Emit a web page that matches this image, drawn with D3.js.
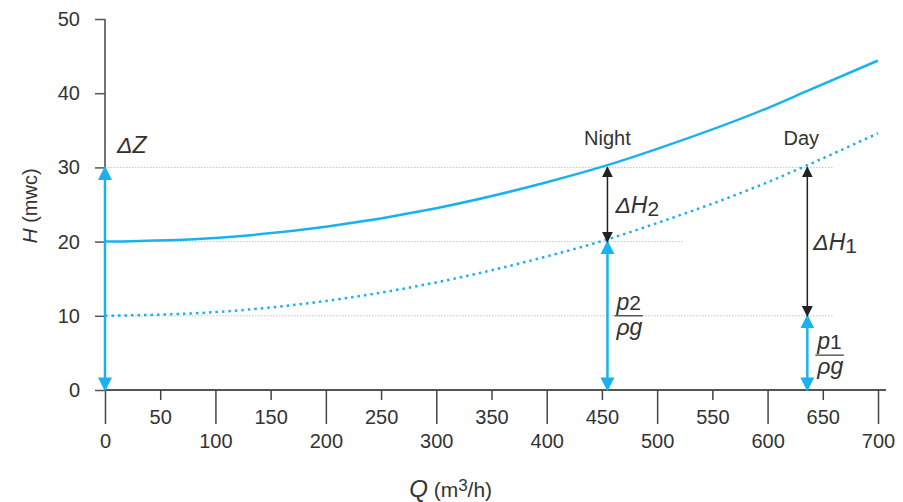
<!DOCTYPE html>
<html lang="en">
<head>
<meta charset="utf-8">
<title>System curve</title>
<script src="https://d3js.org/d3.v7.min.js"></script>
<style>
  body { margin: 0; background: #fff; }
  text { font-family: "Liberation Sans", Arial, sans-serif; fill: #333; }
</style>
</head>
<body>
<div id="chart"></div>
<script>
// data
var flowQ     = [0, 100, 200, 300, 400, 455, 500, 600, 636, 700];
var headNight = [20, 20.5, 22, 24.5, 28, 30.3, 32.5, 38, 40.3, 44.4];
var headDay   = [10, 10.5, 12, 14.5, 18, 20.3, 22.5, 28, 30.3, 34.6];
var xMajor = [0, 100, 200, 300, 400, 500, 600, 700];
var xMinor = [50, 150, 250, 350, 450, 550, 650];
var yTicks = [0, 10, 20, 30, 40, 50];
var qNight = 455, qDay = 636;
// reference levels: [head, Q where the dotted line stops]
var refLines = [[30, 660], [20, 523], [10, 660]];

var blue = "#1ab2ee";
var W = 903, H = 502;
var margin = {top: 19, right: 25, bottom: 112, left: 105};
var width = W - margin.left - margin.right,
    height = H - margin.top - margin.bottom;

var svg = d3.select("#chart").append("svg")
    .attr("width", W).attr("height", H);

var defs = svg.append("defs");
function marker(id, color, size) {
  defs.append("marker")
    .attr("id", id)
    .attr("viewBox", "0 0 10 10")
    .attr("refX", 9).attr("refY", 5)
    .attr("markerUnits", "userSpaceOnUse")
    .attr("markerWidth", size).attr("markerHeight", size)
    .attr("orient", "auto-start-reverse")
    .append("path").attr("d", "M0,0 L10,5 L0,10 Z").attr("fill", color);
}
marker("arrBlue", blue, 14);
marker("arrBlack", "#222", 11);

var g = svg.append("g")
    .attr("transform", "translate(" + margin.left + "," + margin.top + ")");

var x = d3.scaleLinear().domain([0, 700]).range([0, 773]);
var y = d3.scaleLinear().domain([0, 50]).range([height, 0]);

// dotted reference lines
refLines.forEach(function(r) {
  g.append("line")
    .attr("x1", x(0)).attr("x2", x(r[1]))
    .attr("y1", y(r[0])).attr("y2", y(r[0]))
    .attr("stroke", "#c4c4c4").attr("stroke-width", 1)
    .attr("stroke-dasharray", "1.5,1.5");
});

// y axis
var yAxis = g.append("g")
  .call(d3.axisLeft(y).tickValues(yTicks).tickSize(10).tickPadding(15));
yAxis.select(".domain").attr("d", "M0," + y(0) + "V0").attr("stroke", "#444").attr("stroke-width", 1.5);
yAxis.selectAll(".tick line").attr("stroke", "#555").attr("stroke-width", 1.5);
yAxis.selectAll(".tick text").style("font-size", "20px").attr("fill", "#333");

// x axis: major ticks long with labels below, minor short with labels above
var xAxisMajor = g.append("g")
  .attr("transform", "translate(0," + height + ")")
  .call(d3.axisBottom(x).tickValues(xMajor).tickSize(34).tickPadding(10));
xAxisMajor.select(".domain").attr("d", "M" + x(0) + ",0H" + (x(700) + 8)).attr("stroke", "#555").attr("stroke-width", 2);
xAxisMajor.selectAll(".tick line").attr("stroke", "#444").attr("stroke-width", 1.5);
xAxisMajor.selectAll(".tick text").style("font-size", "20px").attr("fill", "#333");

var xAxisMinor = g.append("g")
  .attr("transform", "translate(0," + height + ")")
  .call(d3.axisBottom(x).tickValues(xMinor).tickSize(10).tickPadding(10));
xAxisMinor.select(".domain").remove();
xAxisMinor.selectAll(".tick line").attr("stroke", "#444").attr("stroke-width", 1.5);
xAxisMinor.selectAll(".tick text").style("font-size", "20px").attr("fill", "#333");

// curves
var line = d3.line().curve(d3.curveMonotoneX);
g.append("path")
  .datum(flowQ.map(function(q, i) { return [x(q), y(headNight[i])]; }))
  .attr("d", line).attr("fill", "none")
  .attr("stroke", blue).attr("stroke-width", 2.5);
g.append("path")
  .datum(flowQ.map(function(q, i) { return [x(q), y(headDay[i])]; }))
  .attr("d", line).attr("fill", "none")
  .attr("stroke", blue).attr("stroke-width", 2.5)
  .attr("stroke-dasharray", "2.5,4");

// arrows
function arrow(q, h0, h1, color, id, w) {
  g.append("line")
    .attr("x1", x(q)).attr("x2", x(q))
    .attr("y1", y(h0)).attr("y2", y(h1))
    .attr("stroke", color).attr("stroke-width", w)
    .attr("marker-start", "url(#" + id + ")")
    .attr("marker-end", "url(#" + id + ")");
}
arrow(0, 0, 30, blue, "arrBlue", 2.5);
arrow(qNight, 0, 20, blue, "arrBlue", 2.5);
arrow(qDay, 0, 10, blue, "arrBlue", 2.5);
arrow(qNight, 20, 30, "#222", "arrBlack", 1.5);
arrow(qDay, 10, 30, "#222", "arrBlack", 1.5);

// annotations
function label(q, h, dx, dy, parts, anchor) {
  var t = g.append("text")
    .attr("x", x(q) + dx).attr("y", y(h) + dy)
    .attr("text-anchor", anchor || "start");
  parts.forEach(function(p) {
    var s = t.append("tspan").text(p.t).style("font-size", p.size + "px");
    if (p.italic) s.style("font-style", "italic");
    if (p.dy) s.attr("dy", p.dy);
  });
  return t;
}
label(0, 30, 12, -14, [{t: "\u0394Z", size: 23, italic: true}]);
label(qNight, 30, 0, -22, [{t: "Night", size: 20}], "middle");
label(qDay, 30, -6, -22, [{t: "Day", size: 20}], "middle");
label(qNight, 25, 8, 8, [{t: "\u0394H", size: 23, italic: true}, {t: "2", size: 21, dy: 3}]);
label(qDay, 20, 6, 8, [{t: "\u0394H", size: 23, italic: true}, {t: "1", size: 21, dy: 3}]);

function fraction(q, h, dx, num, sub) {
  var t = label(q, h, dx, -6, [{t: num, size: 23, italic: true}, {t: sub, size: 21}]);
  var bb = t.node().getBBox();
  g.append("line")
    .attr("x1", bb.x - 1).attr("x2", bb.x + bb.width + 2)
    .attr("y1", y(h)).attr("y2", y(h))
    .attr("stroke", "#333").attr("stroke-width", 1.2);
  label(q, h, dx, 19, [{t: "\u03c1g", size: 23, italic: true}]);
}
fraction(qNight, 10, 9, "p", "2");
fraction(qDay, 4.7, 10, "p", "1");

// axis titles
var yt = svg.append("text")
  .attr("transform", "translate(37," + (margin.top + y(24.8)) + ") rotate(-90)")
  .attr("text-anchor", "middle");
yt.append("tspan").text("H").style("font-style", "italic").style("font-size", "21px");
yt.append("tspan").text(" (mwc)").style("font-size", "20px");

var xt = svg.append("text")
  .attr("x", margin.left + x(313)).attr("y", 497)
  .attr("text-anchor", "middle");
xt.append("tspan").text("Q").style("font-style", "italic").style("font-size", "24px");
xt.append("tspan").text(" (m").style("font-size", "21px");
xt.append("tspan").text("3").style("font-size", "17px").attr("dy", -6);
xt.append("tspan").text("/h)").style("font-size", "21px").attr("dy", 6);
</script>
</body>
</html>
